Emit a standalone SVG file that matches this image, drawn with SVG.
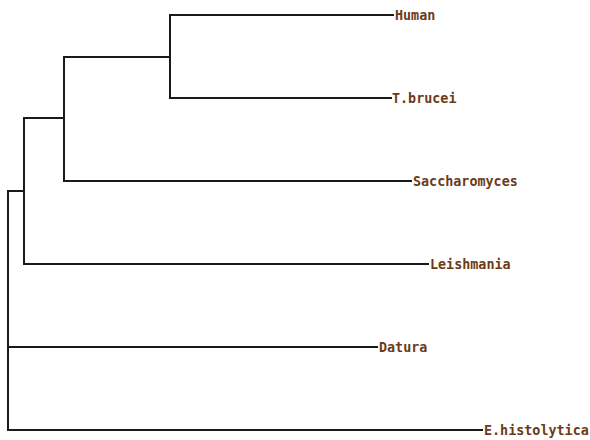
<svg xmlns="http://www.w3.org/2000/svg" width="590" height="440" viewBox="0 0 590 440">
  <style>
    .br { fill: none; stroke: #1a1a1a; stroke-width: 2; stroke-linecap: square; }
    .lbl { font-family: "DejaVu Sans Mono", "Liberation Mono", monospace; font-weight: bold; font-size: 13.4px; fill: #6b3b18; }
  </style>
  <rect width="590" height="440" fill="#ffffff"/>
  <g id="connectors">
    <!-- root -->
    <path class="br" d="M8 191 V430"/>
    <path class="br" d="M8 191 H24"/>
    <path class="br" d="M8 347 H377"/>
    <path class="br" d="M8 430 H482"/>
    <!-- inner clades -->
    <path class="br" d="M24 118 V264"/>
    <path class="br" d="M24 118 H64"/>
    <path class="br" d="M24 264 H428"/>
    <path class="br" d="M64 57 V181"/>
    <path class="br" d="M64 57 H170"/>
    <path class="br" d="M64 181 H411"/>
    <path class="br" d="M170 15 V98"/>
    <path class="br" d="M170 15 H393"/>
    <path class="br" d="M170 98 H391"/>
  </g>
  <g id="human"><text class="lbl" x="395" y="19.5">Human</text></g>
  <g id="tbrucei"><text class="lbl" x="392" y="102.5">T.brucei</text></g>
  <g id="saccharomyces"><text class="lbl" x="413" y="185.5">Saccharomyces</text></g>
  <g id="leishmania"><text class="lbl" x="430" y="268.5">Leishmania</text></g>
  <g id="datura"><text class="lbl" x="379" y="351.5">Datura</text></g>
  <g id="ehistolytica"><text class="lbl" x="484" y="434.5">E.histolytica</text></g>
</svg>
